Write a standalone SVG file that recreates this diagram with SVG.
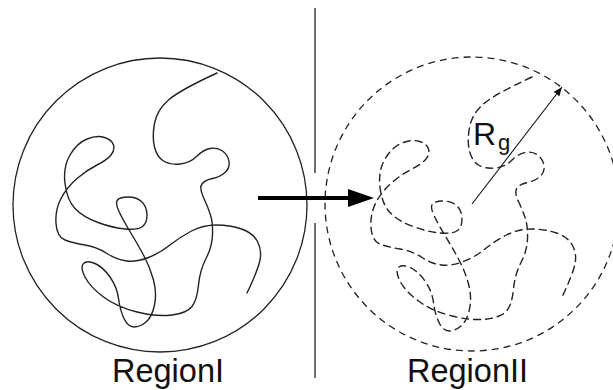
<svg xmlns="http://www.w3.org/2000/svg" xmlns:xlink="http://www.w3.org/1999/xlink" width="613" height="390" viewBox="0 0 613 390">
  <style>
    .outline { fill: none; stroke: #222; stroke-width: 1.3; }
    .chain { fill: none; stroke: #222; stroke-width: 1.4; stroke-linecap: round; stroke-linejoin: round; }
    .dash { stroke-dasharray: 7 5; }
    .label { font-family: "Liberation Sans", Arial, Helvetica, sans-serif; fill: #111; }
  </style>
  <defs>
    <!-- random-walk polymer chain, reused for both regions -->
    <path id="coil" d="M 217 73 Q 180 90 168.5 100 Q 157 110 154.5 123.5 Q 152 137 154.5 147 Q 157 157 163.5 161 Q 170 165 180 164 Q 190 163 196.5 156.5 Q 203 150 210 148.5 Q 217 147 222.5 151 Q 228 155 229 161.5 Q 230 168 225 172.5 Q 220 177 212.5 178.5 Q 205 180 202 184 Q 199 188 203.5 197.5 Q 208 207 210.5 215 Q 213 223 212.5 235 Q 212 247 206 258.5 Q 200 270 198.5 285 Q 197 300 192 306.5 Q 187 313 172 315 Q 157 317 137 312 Q 117 307 103.5 297 Q 90 287 85 277 Q 80 267 83.5 263.5 Q 87 260 95 263.5 Q 103 267 110 277 Q 117 287 118.5 298.5 Q 120 310 124 318.5 Q 128 327 134 327 Q 140 327 146 322 Q 152 317 154.5 305 Q 157 293 153.5 280 Q 150 267 143.5 255 Q 137 243 130 231.5 Q 123 220 119 211.5 Q 115 203 117.5 200 Q 120 197 128.5 197 Q 137 197 142 202 Q 147 207 147 215 Q 147 223 142.5 226.5 Q 138 230 125.5 229 Q 113 228 98 222.5 Q 83 217 75 208.5 Q 67 200 65 183.5 Q 63 167 70 155 Q 77 143 87 139 Q 97 135 104.5 137.5 Q 112 140 113.5 145 Q 115 150 111 155 Q 107 160 97 165 Q 87 170 77 178.5 Q 67 187 61 198.5 Q 55 210 56 223.5 Q 57 237 65 240 Q 73 243 85 245 Q 97 247 107 253.5 Q 117 260 127 261 Q 137 262 148.5 257.5 Q 160 253 170 245 Q 180 237 191.5 231 Q 203 225 216.5 225 Q 230 225 241.5 229 Q 253 233 257.5 241.5 Q 262 250 260 260 Q 258 270 247 293"/>
    <marker id="tip" viewBox="0 0 10 10" refX="10" refY="5" markerWidth="9" markerHeight="9" markerUnits="userSpaceOnUse" orient="auto">
      <path d="M0 1 L10 5 L0 9 Z" fill="#111"/>
    </marker>
  </defs>

  <!-- Region I: compact coil -->
  <g id="region-1">
    <circle class="outline" cx="160" cy="205" r="147"/>
    <use xlink:href="#coil" class="chain"/>
    <text class="label" x="112" y="382" font-size="32.5">RegionI</text>
  </g>

  <!-- Region II: swollen coil with radius of gyration -->
  <g id="region-2">
    <circle class="outline dash" cx="472" cy="204" r="147"/>
    <use xlink:href="#coil" class="chain dash" transform="translate(315,4)"/>
    <text class="label" x="407" y="382" font-size="32.5">RegionII</text>
  </g>

  <g id="rg-label">
    <text class="label" x="473" y="145" font-size="32">R</text>
    <text class="label" x="498" y="150" font-size="22">g</text>
  </g>

  <!-- connectors -->
  <g id="connectors">
    <path d="M315 8 V173 M315 223 V378" stroke="#222" stroke-width="1.3" fill="none"/>
    <line x1="258" y1="198" x2="350" y2="198" stroke="#000" stroke-width="4"/>
    <polygon points="348,189 374,198 348,207" fill="#000"/>
    <line x1="472" y1="204" x2="562" y2="87" stroke="#111" stroke-width="1.1" marker-end="url(#tip)"/>
  </g>
</svg>
